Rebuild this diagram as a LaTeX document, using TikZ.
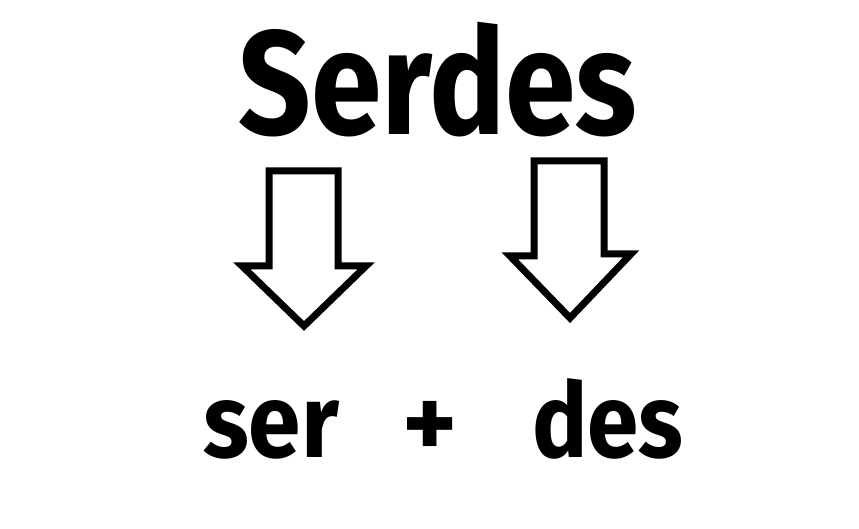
\documentclass[tikz,border=0pt]{standalone}
\usepackage{fontspec}
\setmainfont{Fira Sans}
\begin{document}
\begin{tikzpicture}[x=1pt,y=1pt,
  blockarrow/.style={draw=black,line width=7pt,miter limit=10,line join=miter,fill=white},
  title/.style={font=\fontsize{148}{150}\selectfont\bfseries,inner sep=0pt,anchor=base},
  part/.style={font=\fontsize{104}{110}\selectfont\bfseries,inner sep=0pt,anchor=base}]
\useasboundingbox[fill=white] (0,0) rectangle (859,529);
\node[title] (serdes) at (438,394) {\scalebox{0.86}[1]{Serdes}};
\draw[blockarrow] (269,358) -- (338,358) -- (338,263) -- (366,263) -- (304,203) -- (242,263) -- (269,263) -- cycle;
\draw[blockarrow] (534,368) -- (604,368) -- (604,275) -- (631,275) -- (570,211) -- (510,273) -- (534,273) -- cycle;
\node[part] (ser) at (271,71) {\scalebox{0.91}[1]{ser}};
\node[part,anchor=center] (plus) at (430,99) {+};
\node[part] (des) at (608,71) {\scalebox{0.89}[1]{des}};
\end{tikzpicture}
\end{document}
